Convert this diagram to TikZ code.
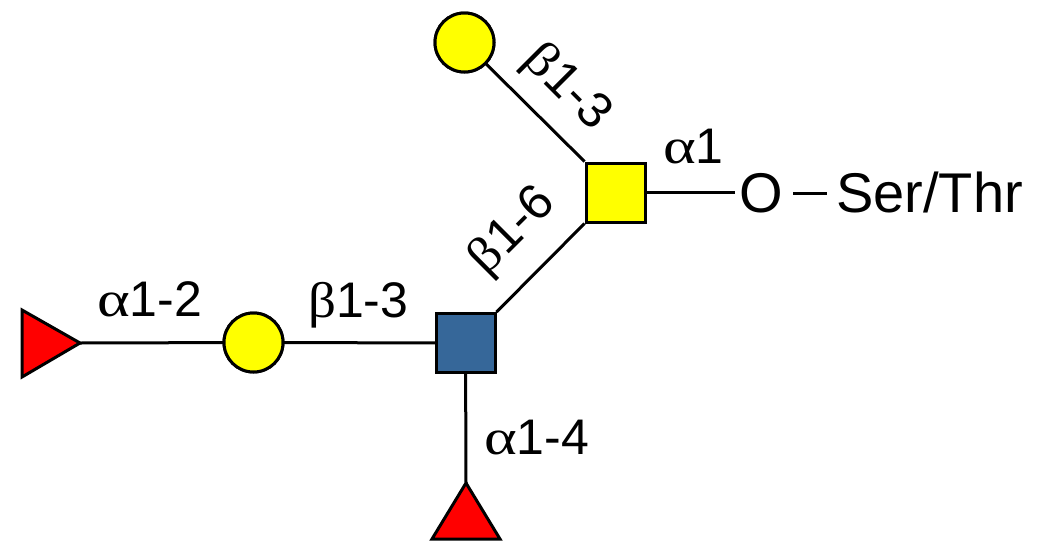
\documentclass[tikz,border=0pt]{standalone}
\usepackage{fontspec}
\usepackage{graphicx}
\setmainfont{Liberation Sans}
\newfontfamily\grk{Liberation Serif}
\newcommand{\galpha}{\scalebox{1.25}[1]{\grk α}}
\newcommand{\gbeta}{\scalebox{1.1}[1]{\grk β}}
\definecolor{glcblue}{RGB}{54,103,153}
\definecolor{galyellow}{RGB}{255,255,0}
\definecolor{fucred}{RGB}{255,0,0}
\begin{document}
\begin{tikzpicture}[x=1pt,y=-1pt,
  bond/.style={line width=3pt},
  sugar/.style={draw,line width=3pt,inner sep=0pt},
  gal/.style={sugar,circle,fill=galyellow,minimum size=59pt},
  galnac/.style={sugar,rectangle,fill=galyellow,minimum size=59pt},
  glcnac/.style={sugar,rectangle,fill=glcblue,minimum size=59pt},
  fuc/.style={draw,line width=3pt,fill=fucred,line join=miter},
  lab/.style={inner sep=0pt,font=\fontsize{50}{56}\selectfont},
  big/.style={inner sep=0pt,font=\fontsize{56}{62}\selectfont}]
\useasboundingbox (0,0) rectangle (1037,552);
% nodes
\node[gal] (c1) at (464.5,42.5) {};
\node[galnac] (sq1) at (615.5,192.5) {};
\node[glcnac] (sq2) at (465.5,343) {};
\node[gal] (c2) at (253.5,342.5) {};
\coordinate (t1) at (80,343);
\coordinate (t2) at (466,483);
\node[big,anchor=base] (O) at (761.5,212) {O};
\node[big,anchor=base west] (st) at (836,212) {Ser/Thr};
\coordinate (Ow) at (735,192.5);
\coordinate (d1) at (793,193);
\coordinate (d2) at (827,193);
% bonds
\draw[bond] (t1) -- (c2.center);
\draw[bond] (c2.center) -- (sq2.center);
\draw[bond] (sq2.center) -- (t2);
\draw[bond] (sq2.north east) -- (sq1.south west);
\draw[bond] (c1.center) -- (sq1.north west);
\draw[bond] (sq1.center) -- (Ow);
\draw[bond] (d1) -- (d2);
% redraw shapes on top
\node[gal] at (c1) {};
\node[galnac] at (sq1) {};
\node[glcnac] at (sq2) {};
\node[gal] at (c2) {};
\draw[fuc] (22,310) -- (t1) -- (22,377) -- cycle;
\draw[fuc] (t2) -- (500,539) -- (432,539) -- cycle;
% labels
\node[lab,anchor=base west] (l12) at (97,316) {\galpha1-2};
\node[lab,anchor=base west] (l13) at (308,317) {\gbeta1-3};
\node[lab,anchor=base west] (l14) at (484,454) {\galpha1-4};
\node[lab,anchor=base west] (l1) at (663,163) {\galpha1};
\node[lab,rotate=45] (l16) at (513,232) {\gbeta1-6};
\node[lab,rotate=-45] (l13b) at (566,88) {\gbeta1-3};
\end{tikzpicture}
\end{document}
